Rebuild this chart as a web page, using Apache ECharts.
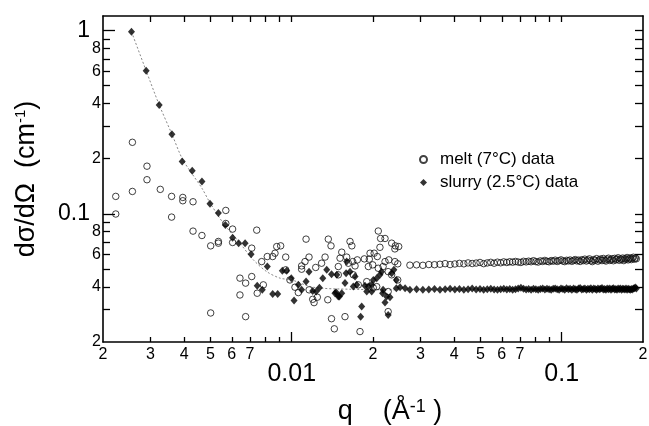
<!DOCTYPE html>
<html><head><meta charset="utf-8">
<script src="https://cdn.jsdelivr.net/npm/echarts@6/dist/echarts.min.js"></script>
<style>html,body{margin:0;padding:0;background:#fff}#c{width:649px;height:426px}</style>
</head><body><div id="c"></div>
<script>
// melt (7°C): scattered low/mid-q points [q, dσ/dΩ]
const meltPts = [
 [0.00223,0.1245],[0.00223,0.0998],[0.00257,0.2456],[0.00257,0.1325],[0.00291,0.182],[0.00291,0.1535],
 [0.00326,0.136],[0.00359,0.1245],[0.00359,0.096],[0.00395,0.1229],[0.00395,0.1179],[0.00431,0.1164],
 [0.00431,0.0805],[0.00465,0.0762],[0.00501,0.0669],[0.00501,0.0288],[0.00535,0.0707],[0.00535,0.0692],
 [0.0057,0.1044],[0.0057,0.0886],[0.00604,0.0826],[0.00604,0.0698],[0.00643,0.0446],[0.00643,0.0361],
 [0.00675,0.0419],[0.00675,0.0275],[0.00711,0.065],[0.00711,0.0455],[0.00742,0.0815],[0.00745,0.0369],
 [0.00774,0.0549],[0.00785,0.041],[0.00812,0.0585],[0.0085,0.0585],[0.00867,0.061],[0.0088,0.0663],
 [0.0091,0.0669],[0.0095,0.0581],[0.0095,0.0495],[0.00985,0.0436],[0.01028,0.0398],[0.01058,0.0372],
 [0.01088,0.052],[0.01088,0.0499],[0.0112,0.0549],[0.0113,0.0728],[0.01159,0.0581],[0.0116,0.0385],
 [0.01196,0.0342],[0.0121,0.0328],[0.01227,0.051],[0.01244,0.0351],[0.0129,0.0538],[0.01329,0.0581],
 [0.0136,0.034],[0.01366,0.0728],[0.01398,0.0669],[0.01404,0.0268],[0.01438,0.0236],[0.01488,0.0516],
 [0.01488,0.0465],[0.0151,0.0573],[0.01532,0.0618],[0.01575,0.0275],[0.01598,0.0581],[0.01621,0.0538],
 [0.01644,0.0707],[0.0167,0.0669],[0.01682,0.0549],[0.01691,0.0465],[0.01716,0.052],[0.0175,0.0561],
 [0.01765,0.041],[0.0179,0.0228],[0.01858,0.0568],[0.01896,0.0427],[0.01922,0.0516],[0.01938,0.0566],
 [0.0195,0.061],[0.01995,0.0527],[0.02005,0.0395],[0.0202,0.061],[0.02064,0.0401],[0.02075,0.0585],
 [0.02092,0.0806],[0.02092,0.0505],[0.02122,0.0657],[0.02134,0.0734],[0.0218,0.0516],[0.02216,0.0734],
 [0.02216,0.0549],[0.02276,0.0484],[0.02276,0.0377],[0.02276,0.0293],[0.02289,0.0561],[0.02345,0.0692],
 [0.02345,0.0465],[0.0241,0.0644],[0.0241,0.0549],[0.0242,0.0669],[0.0247,0.0534],[0.0247,0.0436],
 [0.0249,0.0663]
];
// slurry (2.5°C): scattered low/mid-q points [q, dσ/dΩ]
const slurryPts = [
 [0.00255,0.984],[0.00289,0.603],[0.00323,0.393],[0.0036,0.272],[0.00393,0.193],[0.00428,0.172],
 [0.00465,0.15],[0.00498,0.1135],[0.00535,0.101],[0.00568,0.0869],[0.00604,0.074],[0.00636,0.0692],
 [0.00672,0.0692],[0.00707,0.0603],[0.00745,0.0405],[0.00778,0.0385],[0.00812,0.0516],[0.0085,0.0366],
 [0.00887,0.0366],[0.00923,0.049],[0.00958,0.049],[0.00996,0.0446],[0.0102,0.0337],[0.01058,0.041],
 [0.01088,0.0385],[0.0113,0.0427],[0.01159,0.0484],[0.01196,0.038],[0.01232,0.0377],[0.01266,0.0395],
 [0.01303,0.0446],[0.01348,0.0495],[0.01404,0.0469],[0.01446,0.0369],[0.01459,0.0374],[0.01469,0.0465],
 [0.01488,0.0354],[0.01501,0.0354],[0.01532,0.0369],[0.01575,0.0419],[0.0159,0.0475],[0.01598,0.0549],
 [0.01644,0.0484],[0.01691,0.0401],[0.01716,0.0455],[0.01742,0.041],[0.018,0.0275],[0.01816,0.0312],
 [0.01868,0.0405],[0.01896,0.0377],[0.01922,0.0401],[0.01978,0.041],[0.01978,0.0377],[0.02005,0.0436],
 [0.02064,0.0446],[0.02122,0.0465],[0.02152,0.0484],[0.0217,0.0369],[0.0218,0.0385],[0.02216,0.0328],
 [0.02247,0.0354],[0.02276,0.0281],[0.02312,0.0351],[0.02345,0.0475],[0.0239,0.0495],[0.0244,0.0436],
 [0.0244,0.0393],[0.0252,0.0398],[0.0263,0.0393]
];
// high-q regular part (shared q grid)
const hiQ = [
 0.0274,0.0290,0.0306,0.0322,0.0338,0.0354,0.0370,0.0386,0.0402,0.0418,
 0.0434,0.0450,0.0466,0.0482,0.0498,0.0514,0.0530,0.0546,0.0562,0.0578,
 0.0594,0.0610,0.0626,0.0642,0.0658,0.0674,0.0690,0.0706,0.0722,0.0738,
 0.0754,0.0770,0.0786,0.0802,0.0818,0.0834,0.0850,0.0866,0.0882,0.0898,
 0.0914,0.0930,0.0946,0.0962,0.0978,0.0994,0.1010,0.1026,0.1042,0.1058,
 0.1074,0.1090,0.1106,0.1122,0.1138,0.1154,0.1170,0.1186,0.1202,0.1218,
 0.1234,0.1250,0.1266,0.1282,0.1298,0.1314,0.1330,0.1346,0.1362,0.1378,
 0.1394,0.1410,0.1426,0.1442,0.1458,0.1474,0.1490,0.1506,0.1522,0.1538,
 0.1554,0.1570,0.1586,0.1602,0.1618,0.1634,0.1650,0.1666,0.1682,0.1698,
 0.1714,0.1730,0.1746,0.1762,0.1778,0.1794,0.1810,0.1826,0.1842,0.1858,
 0.1874,0.1890
];
const meltHi = [
 0.0525,0.0527,0.0524,0.0529,0.0528,0.0531,0.0535,0.0529,0.0533,0.0537,
 0.0534,0.0540,0.0536,0.0539,0.0543,0.0535,0.0540,0.0544,0.0538,0.0545,
 0.0541,0.0547,0.0543,0.0548,0.0545,0.0550,0.0546,0.0543,0.0551,0.0547,
 0.0552,0.0548,0.0555,0.0549,0.0546,0.0554,0.0550,0.0557,0.0551,0.0548,
 0.0556,0.0552,0.0559,0.0550,0.0555,0.0561,0.0553,0.0549,0.0558,0.0554,
 0.0560,0.0551,0.0557,0.0563,0.0554,0.0559,0.0550,0.0562,0.0556,0.0566,
 0.0553,0.0560,0.0568,0.0555,0.0549,0.0563,0.0558,0.0570,0.0552,0.0561,
 0.0567,0.0556,0.0571,0.0559,0.0553,0.0566,0.0573,0.0557,0.0562,0.0569,
 0.0555,0.0572,0.0561,0.0566,0.0576,0.0558,0.0568,0.0563,0.0574,0.0556,
 0.0570,0.0565,0.0578,0.0561,0.0569,0.0575,0.0563,0.0572,0.0580,0.0566,
 0.0574,0.0569
];
const slurryHi = [
 0.0386,0.0388,0.0385,0.0387,0.0389,0.0386,0.0388,0.0390,0.0387,0.0389,
 0.0386,0.0388,0.0391,0.0387,0.0389,0.0386,0.0388,0.0390,0.0387,0.0385,
 0.0388,0.0390,0.0387,0.0389,0.0386,0.0388,0.0391,0.0395,0.0390,0.0387,
 0.0389,0.0386,0.0390,0.0388,0.0385,0.0389,0.0391,0.0387,0.0390,0.0388,
 0.0386,0.0390,0.0392,0.0388,0.0385,0.0391,0.0389,0.0386,0.0393,0.0388,
 0.0390,0.0386,0.0392,0.0388,0.0385,0.0391,0.0394,0.0387,0.0389,0.0392,
 0.0386,0.0390,0.0388,0.0393,0.0385,0.0391,0.0389,0.0386,0.0392,0.0388,
 0.0390,0.0394,0.0387,0.0389,0.0385,0.0392,0.0388,0.0391,0.0386,0.0390,
 0.0393,0.0387,0.0389,0.0385,0.0391,0.0388,0.0392,0.0386,0.0390,0.0389,
 0.0387,0.0391,0.0386,0.0390,0.0388,0.0385,0.0389,0.0387,0.0391,0.0393,
 0.0396,0.0392
];
// dashed fit curve through slurry data
const fitQ = [0.00255,0.00289,0.00323,0.0036,0.00393,0.00428,0.00465,0.00498,0.00558,0.00643,0.00721,0.00808,0.00905,0.01,0.012,0.0164,0.0252];
const fitI = [0.984,0.603,0.393,0.272,0.2,0.165,0.138,0.115,0.089,0.0692,0.0561,0.0484,0.0446,0.0436,0.0398,0.0388,0.0385];

// ticks / labels
const xMinorTicks = [0.003,0.004,0.005,0.006,0.007,0.008,0.009,0.02,0.03,0.04,0.05,0.06,0.07,0.08,0.09];
const xMinorLabels = [0.002,0.003,0.004,0.005,0.006,0.007,0.02,0.03,0.04,0.05,0.06,0.07,0.2];
const xMajor = [0.01,0.1];
const yMinorTicks = [0.03,0.04,0.05,0.06,0.07,0.08,0.09,0.2,0.3,0.4,0.5,0.6,0.7,0.8,0.9];
const yMinorLabels = [0.02,0.04,0.06,0.08,0.2,0.4,0.6,0.8];
const yMajor = [0.1,1];

const FONT = 'Liberation Sans, Arial, sans-serif';
function lead(v){ const e = Math.floor(Math.log10(v) + 1e-9); return String(Math.round(v / Math.pow(10, e))); }
function major(v){ return v >= 1 ? '1' : String(+v.toPrecision(3)); }

const meltData = meltPts.concat(hiQ.map((q,i)=>[q, meltHi[i]]));
const slurryData = slurryPts.concat(hiQ.map((q,i)=>[q, slurryHi[i]]));
const fitData = fitQ.map((q,i)=>[q, fitI[i]]);

const black = '#000';
const xBase = {type:'log', logBase:10, min:0.002, max:0.2, splitLine:{show:false}, gridIndex:0};
const yBase = {type:'log', logBase:10, min:0.02, max:1.2, splitLine:{show:false}, gridIndex:0};
const lineSt = {color:black, width:1.6};
const tickSt = {color:black, width:1.3};
const supSt = {fontSize:15, fontFamily:FONT, color:black, verticalAlign:'top', padding:[0,0,9,0]};

const chart = echarts.init(document.getElementById('c'), null, {renderer:'canvas'});
chart.setOption({
  animation:false,
  backgroundColor:'#fff',
  grid:{left:103, right:6, top:16, bottom:84, containLabel:false, outerBoundsMode:'none'},
  legend:{
    data:['melt (7°C) data','slurry (2.5°C) data'],
    orient:'vertical', left:414, top:146, itemWidth:7, itemHeight:7, itemGap:6,
    textStyle:{fontSize:17, fontFamily:FONT, color:black, padding:[0,0,0,8]}
  },
  xAxis:[
    Object.assign({}, xBase, {position:'bottom',
      axisLine:{show:true, lineStyle:lineSt},
      axisTick:{show:true, inside:true, length:5, customValues:xMinorTicks, lineStyle:tickSt},
      axisLabel:{show:true, customValues:xMinorLabels, formatter:lead, margin:5, color:black, fontSize:16, fontFamily:FONT},
      name:'q    (Å{sup|-1} )', nameLocation:'middle', nameGap:56,
      nameTextStyle:{fontSize:27, fontFamily:FONT, color:black, padding:[0,0,0,34],
        rich:{sup:{fontSize:18, fontFamily:FONT, color:black, verticalAlign:'top', padding:[0,0,9,0]}}}
    }),
    Object.assign({}, xBase, {position:'bottom',
      axisLine:{show:false},
      axisTick:{show:true, inside:true, length:10, customValues:xMajor, lineStyle:tickSt},
      axisLabel:{show:true, customValues:xMajor, formatter:major, margin:20, color:black, fontSize:25, fontFamily:FONT}
    }),
    Object.assign({}, xBase, {position:'top',
      axisLine:{show:true, lineStyle:lineSt},
      axisTick:{show:true, inside:true, length:6, customValues:xMinorTicks.concat(xMajor), lineStyle:tickSt},
      axisLabel:{show:false}
    })
  ],
  yAxis:[
    Object.assign({}, yBase, {position:'left',
      axisLine:{show:true, lineStyle:lineSt},
      axisTick:{show:true, inside:true, length:7, customValues:yMinorTicks, lineStyle:tickSt},
      axisLabel:{show:true, customValues:yMinorLabels, formatter:lead, margin:2, color:black, fontSize:16, fontFamily:FONT},
      name:'dσ/dΩ  (cm{sup|-1})', nameLocation:'middle', nameGap:63, nameRotate:90,
      nameTextStyle:{fontSize:27, fontFamily:FONT, color:black, rich:{sup:supSt}}
    }),
    Object.assign({}, yBase, {position:'left',
      axisLine:{show:false},
      axisTick:{show:true, inside:true, length:12, customValues:yMajor, lineStyle:tickSt},
      axisLabel:{show:true, customValues:yMajor, formatter:major, margin:13, color:black, fontSize:23, fontFamily:FONT}
    }),
    Object.assign({}, yBase, {position:'right',
      axisLine:{show:true, lineStyle:lineSt},
      axisTick:{show:true, inside:true, length:8, customValues:yMinorTicks.concat(yMajor), lineStyle:tickSt},
      axisLabel:{show:false}
    })
  ],
  series:[
    {name:'fit', type:'line', xAxisIndex:0, yAxisIndex:0, data:fitData, smooth:0.3, symbol:'none',
      lineStyle:{color:'#888', width:1, type:[2,2]}, z:1, silent:true},
    {name:'melt (7°C) data', type:'scatter', xAxisIndex:0, yAxisIndex:0, data:meltData,
      symbol:'circle', symbolSize:6.5,
      itemStyle:{color:'rgba(255,255,255,0)', borderColor:'#111', borderWidth:1}, z:2},
    {name:'slurry (2.5°C) data', type:'scatter', xAxisIndex:0, yAxisIndex:0, data:slurryData,
      symbol:'diamond', symbolSize:[7,8],
      itemStyle:{color:'#000'}, z:3}
  ]
});
</script>
</body></html>
